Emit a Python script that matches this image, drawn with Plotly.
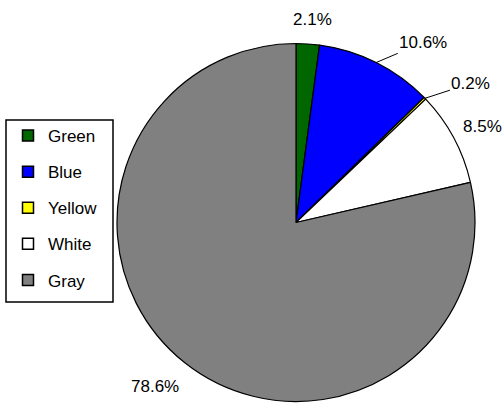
import math
import plotly.graph_objects as go

labels = ["Green", "Blue", "Yellow", "White", "Gray"]
values = [2.1, 10.6, 0.2, 8.5, 78.6]
colors = ["#006600", "#0000FF", "#FFFF00", "#FFFFFF", "#808080"]

W, H = 504, 403
CX, CY, R = 296, 222.5, 179  # pie centre / radius in pixels (layout only)

# label placement styling: (dx, dy) pixel offset of the label from the slice edge, leader line?
label_offsets = [(5, -24, False), (47, -20, True), (46, -15, True), (29, -11, False), (-30, 24, False)]

fig = go.Figure()
fig.add_trace(go.Pie(
    labels=labels, values=values, sort=False, direction="clockwise", rotation=0,
    marker=dict(colors=colors, line=dict(color="black", width=1.2)),
    textinfo="none", showlegend=False, hoverinfo="label+percent",
    domain=dict(x=[(CX - R) / W, (CX + R) / W], y=[(H - CY - R) / H, (H - CY + R) / H]),
))

# legend entries (same labels/colours as the pie)
for lab, col in zip(labels, colors):
    fig.add_trace(go.Scatter(
        x=[None], y=[None], mode="markers", name=lab, legendgroup=lab,
        marker=dict(symbol="square", size=11, color=col, line=dict(color="black", width=1.5)),
    ))

total = sum(values)
cum = 0.0
for v, (dx, dy, leader) in zip(values, label_offsets):
    mid = (cum + v / 2) / total * 2 * math.pi
    cum += v
    ex = CX + R * math.sin(mid)
    ey = CY - R * math.cos(mid)
    txt = f"{v / total * 100:.1f}%"
    common = dict(xref="paper", yref="paper", x=ex / W, y=1 - ey / H, text=txt,
                  font=dict(family="Liberation Sans", size=17, color="black"))
    if leader:
        fig.add_annotation(showarrow=True, ax=dx, ay=dy, arrowhead=0, arrowwidth=1,
                           arrowcolor="black", standoff=0, **common)
    else:
        fig.add_annotation(showarrow=False, xshift=dx, yshift=-dy,
                           xanchor="center", yanchor="middle", **common)

# legend frame
fig.add_shape(type="rect", xref="paper", yref="paper",
              x0=6 / W, x1=113 / W, y0=1 - 302 / H, y1=1 - 120 / H,
              line=dict(color="black", width=1.5), fillcolor="white", layer="below")

fig.update_layout(
    width=W, height=H, margin=dict(l=0, r=0, t=0, b=0),
    paper_bgcolor="white", plot_bgcolor="white",
    xaxis=dict(visible=False), yaxis=dict(visible=False),
    legend=dict(x=8 / W, y=1 - 118 / H, xanchor="left", yanchor="top",
                borderwidth=0, bgcolor="rgba(0,0,0,0)",
                font=dict(family="Liberation Sans", size=17, color="black"),
                tracegroupgap=11, itemwidth=30),
)
fig.write_html("out.html", config={"displayModeBar": False},
               post_script="document.body.style.margin='0px';")
